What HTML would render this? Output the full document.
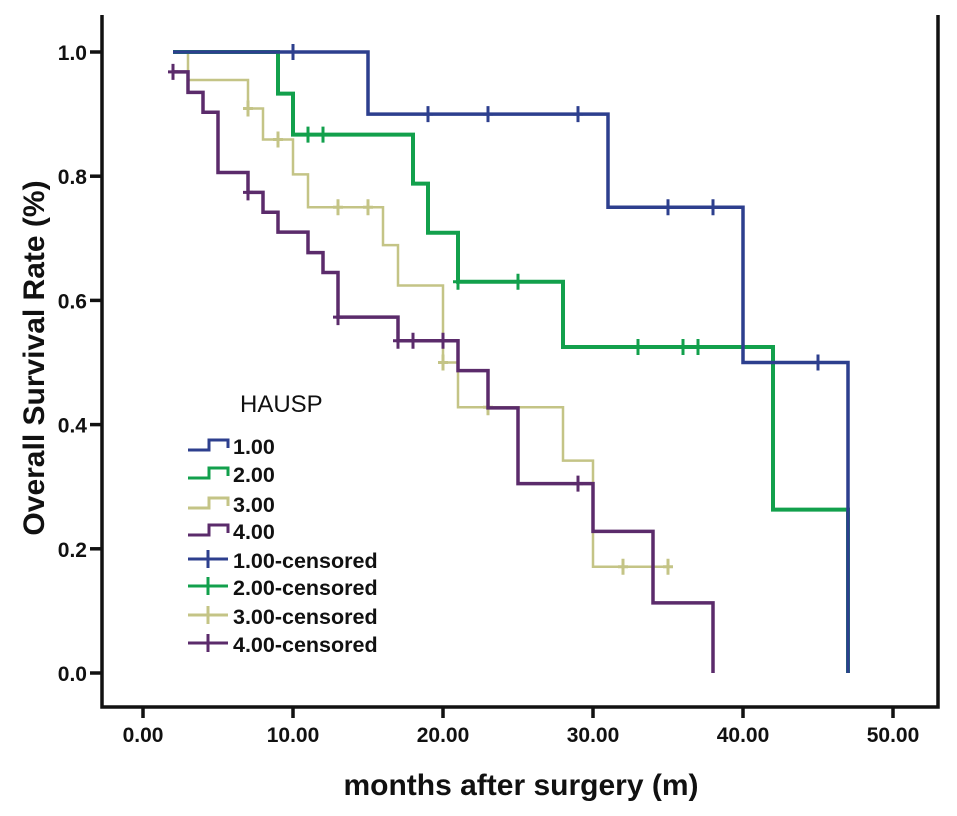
<!DOCTYPE html>
<html><head><meta charset="utf-8"><style>
body{margin:0;background:#fff;}
svg text{font-family:"Liberation Sans",Arial,sans-serif;}
</style></head><body>
<svg id="chart" width="957" height="811" xmlns="http://www.w3.org/2000/svg">
<g id="axes"></g>
<g id="series"></g>
<g id="legend"></g>
</svg>
<script>
const xTicks=[0,10,20,30,40,50];
const xTickLabels=["0.00","10.00","20.00","30.00","40.00","50.00"];
const yTicks=[0,0.2,0.4,0.6,0.8,1.0];
const yTickLabels=["0.0","0.2","0.4","0.6","0.8","1.0"];
const groupNames=["1.00","2.00","3.00","4.00"];
const colors=["#2d3f8e","#12a04c","#c4c486","#5b2b6b"];
const s1Times=[2,15,31,40,47];
const s1Vals=[1.0,0.9,0.75,0.5,0];
const s1Cens=[[10,1.0],[19,0.9],[23,0.9],[29,0.9],[35,0.75],[38,0.75],[45,0.5]];
const s2Times=[2,9,10,18,19,21,28,42,47];
const s2Vals=[1.0,0.933,0.867,0.788,0.709,0.63,0.525,0.263,0];
const s2Cens=[[11,0.867],[12,0.867],[21,0.63],[25,0.63],[33,0.525],[36,0.525],[37,0.525]];
const s3Times=[2,3,7,8,10,11,16,17,20,21,28,30];
const s3Vals=[1.0,0.955,0.909,0.859,0.803,0.75,0.689,0.624,0.5,0.428,0.342,0.171];
const s3End=35;
const s3Cens=[[7,0.909],[9,0.859],[13,0.75],[15,0.75],[20,0.5],[23,0.428],[32,0.171],[35,0.171]];
const s4Times=[2,3,4,5,7,8,9,11,12,13,17,21,23,25,30,34,38];
const s4Vals=[0.968,0.935,0.903,0.806,0.774,0.742,0.71,0.677,0.645,0.573,0.535,0.487,0.427,0.305,0.228,0.113,0];
const s4Cens=[[2,0.968],[7,0.774],[13,0.573],[17,0.535],[18,0.535],[20,0.535],[29,0.305]];

const NS="http://www.w3.org/2000/svg";
const X=t=>143+15*t;
const Y=v=>673-621*v;
function mk(tag,attrs,parent){const e=document.createElementNS(NS,tag);for(const k in attrs)e.setAttribute(k,attrs[k]);parent.appendChild(e);return e;}
const axes=document.getElementById('axes'),ser=document.getElementById('series'),leg=document.getElementById('legend');

let frame=mk('path',{d:'M102,15 L102,707 L938,707 L938,15',fill:'none',stroke:'#111','stroke-width':3.5},axes);


xTicks.forEach((t,i)=>{
  let l=mk('line',{x1:X(t),x2:X(t),y1:707,y2:718,stroke:'#111','stroke-width':3.5},axes);
  
  
  let tx=mk('text',{x:X(t),y:742,'text-anchor':'middle','font-size':21,'font-weight':'bold',fill:'#111'},axes);
  tx.textContent=xTickLabels[i];
  
  
});
yTicks.forEach((v,i)=>{
  let l=mk('line',{x1:90,x2:102,y1:Y(v),y2:Y(v),stroke:'#111','stroke-width':3.5},axes);
  
  
  let tx=mk('text',{x:87,y:Y(v)+8,'text-anchor':'end','font-size':21,'font-weight':'bold',fill:'#111'},axes);
  tx.textContent=yTickLabels[i];
  
  
});
let xt=mk('text',{x:521,y:795,'text-anchor':'middle','font-size':30,'font-weight':'bold',fill:'#111'},axes);
xt.textContent='months after surgery (m)';


let yt=mk('text',{x:0,y:0,'text-anchor':'middle','font-size':30,'font-weight':'bold',fill:'#111',transform:'translate(44,358) rotate(-90)'},axes);
yt.textContent='Overall Survival Rate (%)';



function stepPath(times,vals,end){
  let d='M'+X(times[0])+','+Y(vals[0]);
  for(let i=1;i<times.length;i++){d+=' L'+X(times[i])+','+Y(vals[i-1])+' L'+X(times[i])+','+Y(vals[i]);}
  if(end!==undefined)d+=' L'+X(end)+','+Y(vals[vals.length-1]);
  return d;
}
const all=[[s1Times,s1Vals,undefined,s1Cens,3.5],[s2Times,s2Vals,undefined,s2Cens,4],[s3Times,s3Vals,s3End,s3Cens,2.5],[s4Times,s4Vals,undefined,s4Cens,3.5]];
[2,3,1,0].forEach(i=>{
  const [t,v,e,c,w]=all[i];
  let p=mk('path',{d:stepPath(t,v,e),fill:'none',stroke:colors[i],'stroke-width':w},ser);
  
  
  c.forEach(pt=>{
    let m=mk('path',{d:'M'+X(pt[0])+','+(Y(pt[1])-8)+' v16 M'+(X(pt[0])-5)+','+Y(pt[1])+' h10',stroke:colors[i],'stroke-width':3},ser);
    
    
  });
});

let lt=mk('text',{x:240,y:412,'font-size':24,fill:'#111'},leg);
lt.textContent='HAUSP';


const rowsY=[449,477,507,534,563,590,619,647];
for(let i=0;i<8;i++){
  const g=i%4, y=rowsY[i];
  let sym;
  if(i<4){sym=mk('path',{d:'M188,'+(y+1)+' h21 v-10 h19 v8',fill:'none',stroke:colors[g],'stroke-width':3},leg);}
  else{sym=mk('path',{d:'M188,'+(y-4)+' h40 M208,'+(y-13)+' v18',fill:'none',stroke:colors[g],'stroke-width':3},leg);}
  
  
  let tx=mk('text',{x:233,y:y+5,'font-size':21.5,'font-weight':'bold',fill:'#111'},leg);
  tx.textContent=groupNames[g]+(i>=4?'-censored':'');
  
  
}
</script>
</body></html>
